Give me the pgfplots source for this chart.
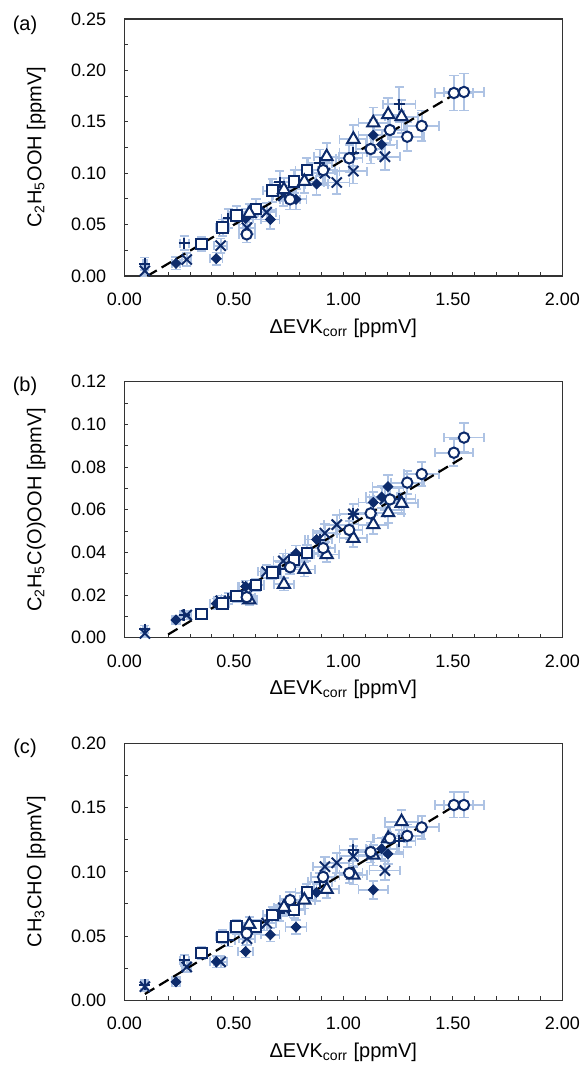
\documentclass[border=0pt]{standalone}
\usepackage{fontspec}
\setmainfont{Liberation Sans}
\usepackage{pgfplots}
\pgfplotsset{compat=1.18}
\usepackage{pgfplotstable}
\definecolor{navy}{HTML}{0D2B6B}
\definecolor{ebar}{HTML}{AEC3E4}

% columns: x, x error, then value and error for panels a, b, c
\pgfplotstableread{
x ex a ea b eb c ec
0.094 0.010 0.012 0.006 0.0040 0.0017 0.0120 0.0035
0.274 0.020 0.032 0.007 0.0106 0.0021 0.0310 0.0044
0.475 0.031 0.056 0.009 0.0184 0.0025 0.0470 0.0051
0.710 0.044 0.091 0.011 0.0320 0.0033 0.0680 0.0061
0.893 0.054 0.110 0.013 0.0460 0.0040 0.0920 0.0071
1.046 0.063 0.120 0.013 0.0580 0.0047 0.1170 0.0083
1.256 0.074 0.167 0.017 0.0650 0.0051 0.1240 0.0086
}\plusdata
\pgfplotstableread{
x ex a ea b eb c ec
0.094 0.010 0.005 0.005 0.0020 0.0016 0.0106 0.0035
0.285 0.021 0.016 0.006 0.0106 0.0021 0.0260 0.0042
0.440 0.029 0.0295 0.007 0.0173 0.0025 0.0300 0.0044
0.560 0.036 0.047 0.008 0.0240 0.0028 0.0480 0.0052
0.650 0.041 0.062 0.009 0.0310 0.0032 0.0600 0.0057
0.726 0.045 0.078 0.010 0.0360 0.0035 0.0720 0.0062
0.916 0.055 0.100 0.012 0.0490 0.0042 0.1040 0.0077
0.970 0.058 0.091 0.011 0.0530 0.0044 0.1070 0.0078
1.046 0.063 0.102 0.012 0.0580 0.0047 0.1120 0.0080
1.190 0.070 0.116 0.013 0.0650 0.0051 0.1010 0.0075
}\crossdata
\pgfplotstableread{
x ex a ea b eb c ec
0.236 0.018 0.0123 0.006 0.0083 0.0020 0.0143 0.0036
0.420 0.028 0.0169 0.006 0.0160 0.0024 0.0300 0.0044
0.554 0.035 0.056 0.009 0.0240 0.0028 0.0380 0.0047
0.667 0.042 0.055 0.009 0.0306 0.0032 0.0510 0.0053
0.784 0.048 0.0746 0.010 0.0395 0.0037 0.0570 0.0056
0.878 0.053 0.0895 0.011 0.0460 0.0040 0.0840 0.0068
1.137 0.068 0.137 0.015 0.0634 0.0050 0.0860 0.0069
1.175 0.070 0.128 0.014 0.0660 0.0051 0.1180 0.0083
1.204 0.071 0.157 0.016 0.0708 0.0054 0.1140 0.0081
}\diamdata
\pgfplotstableread{
x ex a ea b eb c ec
0.353 0.024 0.031 0.007 0.0110 0.0021 0.0366 0.0046
0.449 0.030 0.047 0.008 0.0160 0.0024 0.0495 0.0052
0.513 0.033 0.059 0.009 0.0195 0.0026 0.0573 0.0056
0.601 0.038 0.065 0.010 0.0247 0.0029 0.0573 0.0056
0.676 0.042 0.083 0.011 0.0306 0.0032 0.0664 0.0060
0.776 0.048 0.092 0.011 0.0364 0.0035 0.0703 0.0062
0.833 0.051 0.103 0.012 0.0398 0.0037 0.0838 0.0068
}\squaredata
\pgfplotstableread{
x ex a ea b eb c ec
0.571 0.036 0.061 0.009 0.0177 0.0025 0.0590 0.0057
0.729 0.045 0.084 0.011 0.0250 0.0029 0.0724 0.0063
0.822 0.050 0.092 0.011 0.0320 0.0033 0.0780 0.0065
0.924 0.056 0.116 0.013 0.0390 0.0036 0.0864 0.0069
1.046 0.063 0.133 0.014 0.0466 0.0041 0.0975 0.0074
1.137 0.068 0.149 0.015 0.0530 0.0044 0.1130 0.0081
1.205 0.071 0.157 0.016 0.0586 0.0047 0.1260 0.0087
1.266 0.075 0.155 0.016 0.0630 0.0050 0.1390 0.0093
}\tridata
\pgfplotstableread{
x ex a ea b eb c ec
0.559 0.036 0.0405 0.008 0.0190 0.0025 0.0520 0.0053
0.757 0.047 0.0746 0.010 0.0330 0.0033 0.0780 0.0065
0.908 0.055 0.103 0.012 0.0420 0.0038 0.0960 0.0073
1.027 0.061 0.1145 0.013 0.0505 0.0043 0.0990 0.0075
1.125 0.067 0.1235 0.014 0.0583 0.0047 0.1154 0.0082
1.213 0.072 0.142 0.015 0.0648 0.0051 0.1260 0.0087
1.292 0.076 0.1355 0.014 0.0727 0.0055 0.1280 0.0088
1.358 0.080 0.146 0.015 0.0767 0.0057 0.1346 0.0091
1.505 0.088 0.178 0.017 0.0867 0.0063 0.1520 0.0098
1.551 0.090 0.179 0.018 0.0938 0.0067 0.1520 0.0098
}\circdata

\pgfplotsset{
  panel/.style={
    scale only axis, width=219pt, height=128.5pt,
    xmin=0, xmax=2, xtick={0,0.5,1,1.5,2}, minor x tick num=4,
    ymin=0, minor y tick num=1,
    tick align=inside, tick pos=left,
    major tick length=2pt, minor tick length=2pt,
    axis line style={black!80, line width=0.6pt},
    tick style={black!80, line width=0.5pt},
    /pgf/number format/fixed,
    /pgf/number format/fixed zerofill,
    /pgf/number format/precision=2,
    /pgf/number format/assume math mode=true,
    tick label style={font=\fontsize{9}{10}\selectfont, black},
    xticklabel style={yshift=-5pt},
    yticklabel style={xshift=-5.5pt},
    label style={font=\fontsize{10}{12}\selectfont, black},
    xlabel={ΔEVK\textsubscript{corr} [ppmV]},
    xlabel style={at={(axis description cs:0.5,-0.2023)}, anchor=center},
    ylabel style={at={(axis description cs:-0.201,0.5)}, anchor=center},
    clip=false,
  },
  ebars/.style={
    error bars/.cd,
      x dir=both, x explicit, y dir=both, y explicit,
      error bar style={color=ebar, line width=0.9pt},
      error mark options={rotate=90, mark size=2.3pt, color=ebar, line width=0.9pt},
  },
  mplus/.style={only marks, mark=+, mark size=2.8pt, color=navy,
    mark options={line width=1pt}},
  mcross/.style={only marks, mark=x, mark size=3.6pt, color=navy,
    mark options={line width=1pt}},
  mdiam/.style={only marks, mark=square*, mark size=1.75pt, color=navy,
    mark options={fill=navy, rotate=45}},
  msquare/.style={only marks, mark=square*, mark size=2.6pt, color=navy,
    mark options={fill=white, line width=1pt}},
  mtri/.style={only marks, mark=triangle*, mark size=3.5pt, color=navy,
    mark options={fill=white, line width=1pt}},
  mcirc/.style={only marks, mark=*, mark size=2.6pt, color=navy,
    mark options={fill=white, line width=1pt}},
  fitline/.style={black, line width=1.1pt, dash pattern=on 5.5pt off 2.8pt},
}

% draws the six series of one panel (#1 = column, #2 = error column)
\newcommand{\series}[2]{%
  \addplot[mplus, ebars] table[x=x, y=#1, x error=ex, y error=#2] {\plusdata};
  \addplot[mcross, ebars] table[x=x, y=#1, x error=ex, y error=#2] {\crossdata};
  \addplot[mdiam, ebars] table[x=x, y=#1, x error=ex, y error=#2] {\diamdata};
  \addplot[msquare, ebars] table[x=x, y=#1, x error=ex, y error=#2] {\squaredata};
  \addplot[mtri, ebars] table[x=x, y=#1, x error=ex, y error=#2] {\tridata};
  \addplot[mcirc, ebars] table[x=x, y=#1, x error=ex, y error=#2] {\circdata};
}

\begin{document}
\begin{tikzpicture}
\path[use as bounding box] (0,0) rectangle (291.5pt,-534pt);

\begin{axis}[panel, at={(62.15pt,-138pt)}, anchor=south west,
  ymax=0.25, ytick={0,0.05,...,0.25},
  ylabel={C\textsubscript{2}H\textsubscript{5}OOH [ppmV]}]
\series{a}{ea}
\addplot[fitline] coordinates {(0.105,0) (1.49,0.1745)};
\end{axis}

\begin{axis}[panel, at={(62.15pt,-318.85pt)}, anchor=south west, height=128pt,
  ymax=0.12, ytick={0,0.02,...,0.12},
  ylabel={C\textsubscript{2}H\textsubscript{5}C(O)OOH [ppmV]}]
\series{b}{eb}
\addplot[fitline] coordinates {(0.2,0.0015) (1.555,0.085)};
\end{axis}

\begin{axis}[panel, at={(62.15pt,-500.15pt)}, anchor=south west,
  ymax=0.20, ytick={0,0.05,...,0.20},
  ylabel={CH\textsubscript{3}CHO [ppmV]}]
\series{c}{ec}
\addplot[fitline] coordinates {(0.094,0.0049) (1.502,0.1507)};
\end{axis}

\node[font=\fontsize{10}{12}\selectfont] at (12.5pt,-12.9pt) {(a)};
\node[font=\fontsize{10}{12}\selectfont] at (12.5pt,-193pt) {(b)};
\node[font=\fontsize{10}{12}\selectfont] at (12.5pt,-374pt) {(c)};
\end{tikzpicture}
\end{document}
